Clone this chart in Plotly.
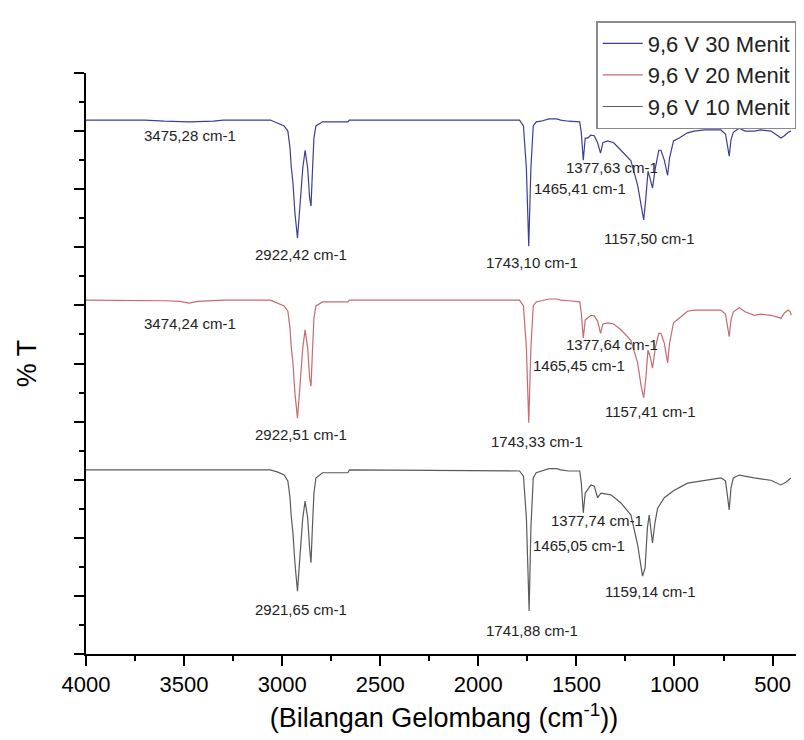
import plotly.graph_objects as go

# ---- data (wavenumber cm-1, %T arbitrary offset units) ----
wn_30 = [4000, 3700, 3600, 3475, 3350, 3300, 3060, 3022, 2990, 2971, 2960, 2954, 2945, 2935, 2922,
         2910, 2895, 2883, 2870, 2860, 2853, 2846, 2838, 2828, 2794, 2665, 2657, 1790, 1770, 1755,
         1743, 1732, 1720, 1705, 1680, 1640, 1600, 1580, 1540, 1483, 1475, 1465, 1455, 1443, 1426,
         1409, 1392, 1377, 1365, 1340, 1310, 1273, 1222, 1188, 1170, 1157, 1146, 1135, 1125, 1112,
         1098, 1080, 1069, 1052, 1035, 1025, 1005, 976, 934, 900, 849, 800, 764, 740, 728, 721, 712,
         700, 670, 640, 593, 560, 508, 480, 457, 440, 420, 406]
t_30 = [91.9, 91.9, 91.7, 91.6, 91.7, 91.9, 91.9, 91.4, 90.9, 90.0, 87.1, 84.0, 81.1, 75.9, 71.6,
        76.8, 83.6, 86.7, 83.6, 78.5, 77.1, 82.8, 88.8, 90.9, 91.6, 91.6, 91.9, 91.9, 90.9, 83.6,
        70.2, 83.6, 90.9, 91.6, 91.7, 92.1, 92.1, 91.9, 91.7, 91.6, 89.7, 85.0, 88.8, 88.8, 89.3,
        89.2, 88.0, 86.2, 88.0, 88.3, 88.0, 86.7, 84.9, 80.7, 76.8, 74.7, 78.5, 83.1, 81.9, 80.2,
        83.6, 86.7, 86.7, 85.0, 82.4, 85.4, 88.3, 88.8, 89.7, 90.0, 90.2, 90.2, 90.2, 89.5, 87.1, 85.7, 88.5,
        89.8, 90.5, 90.0, 90.0, 90.2, 90.0, 89.3, 88.8, 89.2, 89.8, 90.0]

wn_20 = [4000, 3700, 3600, 3520, 3475, 3430, 3350, 3300, 3060, 3022, 2990, 2971, 2960, 2954, 2945,
         2935, 2922, 2910, 2895, 2883, 2870, 2860, 2853, 2846, 2838, 2828, 2794, 2665, 2657, 1790,
         1770, 1755, 1743, 1732, 1720, 1705, 1680, 1640, 1600, 1580, 1540, 1483, 1475, 1465, 1455,
         1443, 1426, 1409, 1392, 1377, 1365, 1340, 1310, 1273, 1222, 1188, 1170, 1157, 1146, 1135,
         1125, 1112, 1098, 1080, 1069, 1052, 1035, 1025, 1005, 976, 934, 900, 849, 800, 764, 740,
         728, 721, 712, 700, 670, 640, 593, 560, 508, 480, 457, 440, 420, 410, 405]
t_20 = [60.9, 60.9, 60.8, 60.7, 60.4, 60.7, 60.8, 60.9, 60.9, 60.4, 59.9, 59.0, 56.1, 53.0, 50.1,
        44.9, 40.6, 45.8, 52.7, 55.8, 52.7, 47.5, 46.1, 51.8, 57.8, 59.9, 60.6, 60.6, 60.9, 60.9,
        59.9, 52.7, 39.8, 52.7, 59.9, 60.6, 60.8, 61.1, 61.1, 60.9, 60.8, 60.6, 58.7, 54.4, 57.5,
        57.8, 58.3, 58.2, 57.3, 55.2, 56.8, 57.0, 56.8, 55.8, 54.0, 50.1, 46.1, 44.1, 47.5, 52.3,
        51.3, 49.2, 52.7, 55.2, 55.2, 53.5, 50.1, 53.5, 57.0, 57.8, 59.0, 59.2, 59.2, 59.2, 59.2, 58.5,
        56.1, 54.6, 57.5, 58.9, 59.6, 58.9, 58.3, 58.5, 58.3, 58.0, 57.8, 58.7, 59.2, 58.9, 58.3]

wn_10 = [4000, 3500, 3060, 3022, 2990, 2971, 2960, 2954, 2945, 2935, 2922, 2910, 2895, 2883, 2870,
         2860, 2853, 2846, 2838, 2828, 2794, 2665, 2657, 1790, 1770, 1755, 1741, 1732, 1720, 1705,
         1680, 1640, 1600, 1580, 1540, 1483, 1475, 1465, 1455, 1443, 1426, 1409, 1392, 1375, 1350,
         1324, 1273, 1222, 1188, 1163, 1150, 1138, 1129, 1120, 1112, 1100, 1086, 1052, 1001, 933,
         848, 763, 740, 728, 721, 712, 700, 670, 594, 509, 458, 430, 407]
t_10 = [31.7, 31.7, 31.7, 31.3, 30.8, 29.8, 26.9, 23.8, 20.8, 15.7, 10.8, 16.5, 23.4, 26.3, 23.4,
        18.2, 15.7, 21.7, 27.7, 30.3, 31.2, 31.2, 31.7, 31.5, 30.6, 23.4, 7.4, 21.7, 30.3, 31.2,
        31.5, 31.9, 31.9, 31.7, 31.5, 31.5, 29.4, 24.3, 27.7, 28.2, 29.1, 28.9, 26.9, 27.7, 27.5,
        27.4, 26.0, 23.9, 18.8, 13.4, 14.8, 21.7, 23.9, 21.7, 19.1, 22.5, 25.1, 26.9, 28.2, 29.4,
        29.9, 30.3, 29.8, 26.9, 24.8, 28.6, 30.3, 30.8, 30.3, 29.9, 29.1, 29.6, 30.3]

series_names = ["9,6 V 30 Menit", "9,6 V 20 Menit", "9,6 V 10 Menit"]

# peak labels: text, label x (cm-1), label y (%T units)
label_text_30 = ["3475,28 cm-1", "2922,42 cm-1", "1743,10 cm-1", "1377,63 cm-1", "1465,41 cm-1", "1157,50 cm-1"]
label_x_30 = [3470, 2905, 1728, 1320, 1483, 1127]
label_y_30 = [89.3, 68.7, 67.3, 83.8, 80.2, 71.6]

label_text_20 = ["3474,24 cm-1", "2922,51 cm-1", "1743,33 cm-1", "1377,64 cm-1", "1465,45 cm-1", "1157,41 cm-1"]
label_x_20 = [3470, 2905, 1703, 1320, 1489, 1122]
label_y_20 = [56.8, 37.7, 36.5, 53.2, 49.7, 41.7]

label_text_10 = ["2921,65 cm-1", "1741,88 cm-1", "1377,74 cm-1", "1465,05 cm-1", "1159,14 cm-1"]
label_x_10 = [2905, 1728, 1397, 1489, 1122]
label_y_10 = [7.6, 4.1, 22.9, 18.6, 10.7]

x_tick_vals = [4000, 3500, 3000, 2500, 2000, 1500, 1000, 500]
x_tick_text = ["4000", "3500", "3000", "2500", "2000", "1500", "1000", "500"]

colors = ["#3d3d99", "#c86a6f", "#5a5a5a"]
FONT = "Liberation Sans, Arial, sans-serif"

fig = go.Figure()
for wn, t, name, c in [(wn_30, t_30, series_names[0], colors[0]),
                       (wn_20, t_20, series_names[1], colors[1]),
                       (wn_10, t_10, series_names[2], colors[2])]:
    fig.add_trace(go.Scatter(x=wn, y=t, mode="lines", name=name,
                             line=dict(color=c, width=1.2)))

annotations = []
for texts, xs, ys in [(label_text_30, label_x_30, label_y_30),
                      (label_text_20, label_x_20, label_y_20),
                      (label_text_10, label_x_10, label_y_10)]:
    for tx, xx, yy in zip(texts, xs, ys):
        annotations.append(dict(x=xx, y=yy, xref="x", yref="y", text=tx, showarrow=False,
                                font=dict(family=FONT, size=15, color="#222222"),
                                xanchor="center", yanchor="middle"))

fig.update_layout(
    width=804, height=740,
    margin=dict(l=78, r=10, t=65, b=94),
    paper_bgcolor="white", plot_bgcolor="white",
    font=dict(family=FONT, color="black"),
    annotations=annotations,
    showlegend=True,
    legend=dict(x=0.992, y=1.0895, xanchor="right", yanchor="top",
                bordercolor="#8a8a8a", borderwidth=1.5, bgcolor="white",
                font=dict(family=FONT, size=22, color="#222222"),
                tracegroupgap=0, itemwidth=40),
)

fig.update_xaxes(
    range=[4000, 350], tickmode="array", tickvals=x_tick_vals, ticktext=x_tick_text,
    ticks="outside", ticklen=10, tickwidth=2, tickcolor="black",
    showline=True, linecolor="black", linewidth=2, mirror=False,
    showgrid=False, zeroline=False,
    tickfont=dict(family=FONT, size=22, color="black"),
    minor=dict(ticks="outside", ticklen=5, tickwidth=2, tickcolor="black", dtick=250, tick0=0, showgrid=False),
    title=dict(text="(Bilangan Gelombang (cm<sup>-1</sup>))",
               font=dict(family=FONT, size=27, color="black"), standoff=12),
)
fig.update_yaxes(
    range=[0, 100], dtick=10, tick0=0, showticklabels=False,
    ticks="outside", ticklen=10, tickwidth=2, tickcolor="black",
    showline=True, linecolor="black", linewidth=2, mirror=False,
    showgrid=False, zeroline=False,
    minor=dict(ticks="outside", ticklen=5, tickwidth=2, tickcolor="black", dtick=5, tick0=0, showgrid=False),
    title=dict(text="% T", font=dict(family=FONT, size=27, color="black"), standoff=30),
)

fig.write_html("out.html")
